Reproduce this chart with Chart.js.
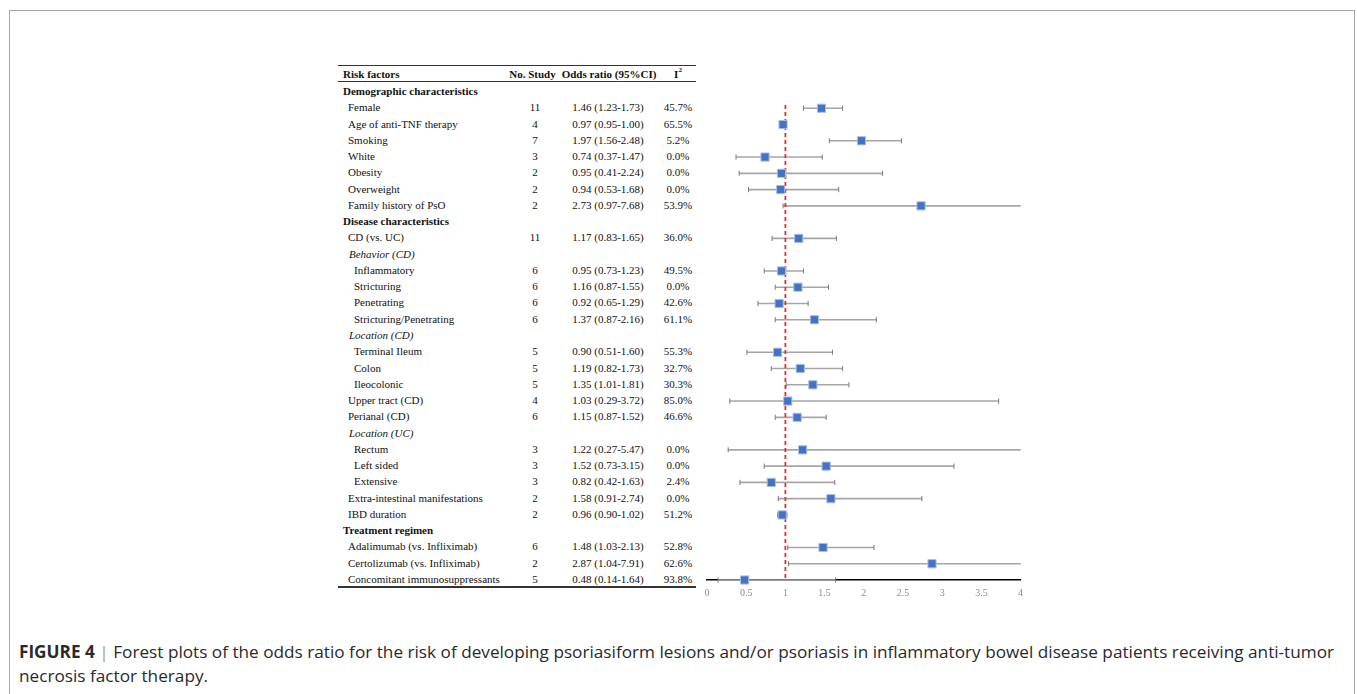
<!DOCTYPE html>
<html><head><meta charset="utf-8">
<script src="https://cdn.jsdelivr.net/npm/chart.js@4.4.0/dist/chart.umd.min.js"></script>
<style>
html,body{margin:0;padding:0;background:#fff;width:1357px;height:694px;overflow:hidden;position:relative;}
#frame{position:absolute;left:9px;top:10px;width:1346px;height:720px;border:1.5px solid #a6a6a6;border-bottom:none;box-sizing:border-box;}
#table{position:absolute;left:0;top:0;width:1357px;height:694px;font-family:'Liberation Serif','Times New Roman',serif;font-size:11px;color:#111;}
.row{position:absolute;left:0;width:1357px;height:16px;line-height:16px;white-space:nowrap;}
.lab{position:absolute;}
.c{position:absolute;transform:translateX(-50%);}
.hdr{font-weight:bold;}
.rule{position:absolute;left:338px;width:358px;background:#333;}
#chartwrap{position:absolute;left:690px;top:80px;width:350px;height:530px;}
#caption{position:absolute;left:19px;top:640px;font-family:'Open Sans','Liberation Sans',Arial,sans-serif;font-size:17.2px;line-height:24px;color:#2a2a2a;white-space:nowrap;}
#caption .sep{color:#999;}
</style></head>
<body>
<div id="frame"></div>
<div id="table"></div>
<div id="chartwrap"><canvas id="c" width="350" height="530"></canvas></div>
<div id="caption"><b>FIGURE 4</b> <span class="sep">|</span> Forest plots of the odds ratio for the risk of developing psoriasiform lesions and/or psoriasis in inflammatory bowel disease patients receiving anti-tumor<br>necrosis factor therapy.</div>
<script>
// ---- data ----
const rowLabels = [
  'Demographic characteristics','Female','Age of anti-TNF therapy','Smoking','White','Obesity','Overweight','Family history of PsO',
  'Disease characteristics','CD (vs. UC)','Behavior (CD)','Inflammatory','Stricturing','Penetrating','Stricturing/Penetrating',
  'Location (CD)','Terminal Ileum','Colon','Ileocolonic','Upper tract (CD)','Perianal (CD)',
  'Location (UC)','Rectum','Left sided','Extensive','Extra-intestinal manifestations','IBD duration',
  'Treatment regimen','Adalimumab (vs. Infliximab)','Certolizumab (vs. Infliximab)','Concomitant immunosuppressants'
];
// section = bold heading, group = italic sub-heading, factor, subfactor
const rowKinds = [
  'section','factor','factor','factor','factor','factor','factor','factor',
  'section','factor','group','subfactor','subfactor','subfactor','subfactor',
  'group','subfactor','subfactor','subfactor','factor','factor',
  'group','subfactor','subfactor','subfactor','factor','factor',
  'section','factor','factor','factor'
];
const nStudies = [null,11,4,7,3,2,2,2, null,11,null,6,6,6,6, null,5,5,5,4,6, null,3,3,3,2,2, null,6,2,5];
const orValues = [null,1.46,0.97,1.97,0.74,0.95,0.94,2.73, null,1.17,null,0.95,1.16,0.92,1.37, null,0.90,1.19,1.35,1.03,1.15, null,1.22,1.52,0.82,1.58,0.96, null,1.48,2.87,0.48];
const ciLow    = [null,1.23,0.95,1.56,0.37,0.41,0.53,0.97, null,0.83,null,0.73,0.87,0.65,0.87, null,0.51,0.82,1.01,0.29,0.87, null,0.27,0.73,0.42,0.91,0.90, null,1.03,1.04,0.14];
const ciHigh   = [null,1.73,1.00,2.48,1.47,2.24,1.68,7.68, null,1.65,null,1.23,1.55,1.29,2.16, null,1.60,1.73,1.81,3.72,1.52, null,5.47,3.15,1.63,2.74,1.02, null,2.13,7.91,1.64];
const i2Values = [null,45.7,65.5,5.2,0.0,0.0,0.0,53.9, null,36.0,null,49.5,0.0,42.6,61.1, null,55.3,32.7,30.3,85.0,46.6, null,0.0,0.0,2.4,0.0,51.2, null,52.8,62.6,93.8];
const headerLabels = ['Risk factors','No. Study','Odds ratio (95%CI)','I'];
const xTicks = {min:0, max:4, step:0.5};
const refValue = 1;

// ---- chart ----
const clipBox = {left:0, right:0, top:14, bottom:14};
const datasets = [];
datasets.push({
  type:'scatter', label:'OR',
  data: orValues.map((v,i)=> v==null?null:{x:v,y:i}).filter(d=>d),
  pointStyle:'rect', pointRadius:5.8, backgroundColor:'#4472c4', borderColor:'#a9bfe6', borderWidth:1,
  order:0, clip:false
});
datasets.push({
  type:'line', label:'ref',
  data:[{x:refValue,y:0.8},{x:refValue,y:rowLabels.length-1}],
  borderColor:'#e0302a', borderWidth:1.8, borderDash:[4,3], pointRadius:0, order:1, clip:false
});
orValues.forEach((v,i)=>{
  if (v==null) return;
  datasets.push({
    type:'line', label:'ci'+i,
    data:[{x:ciLow[i],y:i},{x:ciHigh[i],y:i}],
    borderColor:'#a6a6a6', borderWidth:1.6,
    pointStyle:'line', rotation:90, pointRadius:2.6, pointBorderColor:'#7a7a7a', pointBorderWidth:1,
    order:2, clip:clipBox
  });
});

const chart = new Chart(document.getElementById('c'), {
  data:{datasets},
  options:{
    responsive:false, animation:false, events:[],
    layout:{padding:{left:17, right:19.4, top:12, bottom:10}},
    plugins:{legend:{display:false}, tooltip:{enabled:false}},
    scales:{
      x:{type:'linear', min:xTicks.min, max:xTicks.max,
         ticks:{stepSize:xTicks.step, color:'#8c8c8c', font:{family:'Liberation Serif', size:10}, padding:7, maxRotation:0, autoSkip:false,
                callback:(v)=>String(Math.round(v*10)/10)},
         grid:{display:false, drawTicks:false},
         border:{display:true, color:'#000', width:1.5},
         afterFit:(s)=>{s.height=20;}
      },
      y:{type:'linear', min:0, max:rowLabels.length-1, reverse:true, display:false}
    }
  }
});

// ---- table (aligned to chart y scale) ----
const tbl = document.getElementById('table');
const wrapTop = 80;
const ys = chart.scales.y;
const colN = 535, colOR = 608, colI2 = 678;
function mk(cls, txt, left, parent){const s=document.createElement('span'); s.className=cls; s.textContent=txt; s.style.left=left+'px'; parent.appendChild(s); return s;}
// header
const rowPitch = ys.getPixelForValue(1)-ys.getPixelForValue(0);
const hdrCenter = wrapTop + ys.getPixelForValue(0) - 2 - rowPitch;
const hdr = document.createElement('div'); hdr.className='row hdr'; hdr.style.top=(hdrCenter-8)+'px';
mk('lab', headerLabels[0], 343, hdr);
mk('c', headerLabels[1], 532.5, hdr);
mk('c', headerLabels[2], 609, hdr);
const i2h = mk('c', headerLabels[3], 678, hdr);
const sup = document.createElement('sup'); sup.textContent='2'; sup.style.fontSize='7px'; sup.style.verticalAlign='6px'; sup.style.lineHeight='0'; i2h.appendChild(sup);
tbl.appendChild(hdr);
const indent = {section:343, factor:348, group:349, subfactor:354};
rowLabels.forEach((lab,i)=>{
  const cy = wrapTop + ys.getPixelForValue(i) - 1;
  const r = document.createElement('div'); r.className='row'; r.style.top=(cy-8)+'px';
  const l = mk('lab', lab, indent[rowKinds[i]], r);
  if (rowKinds[i]==='section') l.style.fontWeight='bold';
  if (rowKinds[i]==='group') l.style.fontStyle='italic';
  if (orValues[i]!=null){
    mk('c', String(nStudies[i]), colN, r);
    mk('c', orValues[i].toFixed(2)+' ('+ciLow[i].toFixed(2)+'-'+ciHigh[i].toFixed(2)+')', colOR, r);
    mk('c', i2Values[i].toFixed(1)+'%', colI2, r);
  }
  tbl.appendChild(r);
});
// rules
function rule(top,h){const d=document.createElement('div'); d.className='rule'; d.style.top=top+'px'; d.style.height=h+'px'; tbl.appendChild(d);}
rule(64.5,1.5); rule(80.5,1); rule(586,1.5);
</script>
</body></html>
